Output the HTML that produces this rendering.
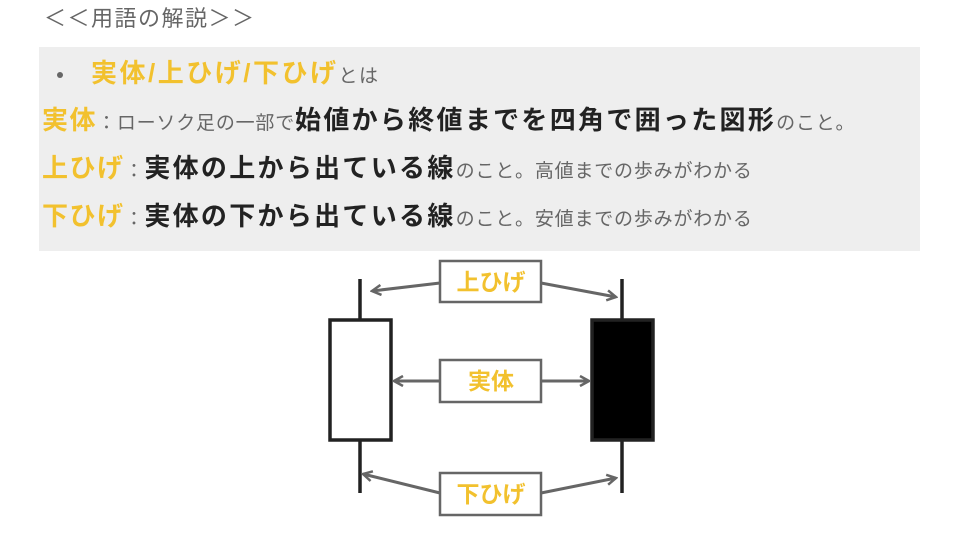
<!DOCTYPE html>
<html><head><meta charset="utf-8"><style>
body{margin:0;width:960px;height:540px;background:#fff;position:relative;overflow:hidden;font-family:"Liberation Sans","Noto Sans CJK JP",sans-serif}
.t{position:absolute;white-space:nowrap;line-height:1}
.o{color:#f2c12e;font-weight:bold;font-size:26px;letter-spacing:1.5px}
.g{color:#666;font-size:19px;letter-spacing:0.8px}
.b{color:#222;font-weight:bold;font-size:26px;letter-spacing:2.3px}
</style></head><body>
<div class="t" style="left:44px;top:8px;font-size:22px;color:#666;letter-spacing:1.5px">＜＜用語の解説＞＞</div>
<div style="position:absolute;left:39px;top:47px;width:881px;height:204px;background:#eeeeee"></div>
<div style="position:absolute;left:57px;top:72px;width:6px;height:6px;border-radius:50%;background:#666"></div>
<div class="t" style="left:91px;top:60px"><span class="o" style="letter-spacing:2.5px">実体/上ひげ/下ひげ</span><span class="g" style="letter-spacing:1.5px">とは</span></div>
<div class="t" style="left:42px;top:107px"><span class="o">実体</span><span class="g">：ローソク足の一部で</span><span class="b">始値から終値までを四角で囲った図形</span><span class="g">のこと。</span></div>
<div class="t" style="left:42px;top:155px"><span class="o">上ひげ</span><span class="g">：</span><span class="b">実体の上から出ている線</span><span class="g">のこと。高値までの歩みがわかる</span></div>
<div class="t" style="left:42px;top:203px"><span class="o">下ひげ</span><span class="g">：</span><span class="b">実体の下から出ている線</span><span class="g">のこと。安値までの歩みがわかる</span></div>
<svg width="960" height="540" style="position:absolute;left:0;top:0">
<defs><marker id="a" markerWidth="12" markerHeight="12" refX="10" refY="6" orient="auto" markerUnits="userSpaceOnUse"><path d="M1,1 L10,6 L1,11" fill="none" stroke="#666" stroke-width="2.5"/></marker></defs>
<g stroke="#222" stroke-width="3.5">
<line x1="360" y1="279" x2="360" y2="493"/><rect x="330" y="320" width="61" height="120" fill="#fff"/>
<line x1="622" y1="279" x2="622" y2="493"/><rect x="592" y="320" width="61" height="120" fill="#000"/>
</g>
<g stroke="#666" stroke-width="3" fill="none" marker-end="url(#a)">
<line x1="440" y1="283" x2="372" y2="291"/><line x1="541" y1="283" x2="616" y2="297"/>
<line x1="440" y1="381" x2="394" y2="381"/><line x1="541" y1="381" x2="589" y2="381"/>
<line x1="440" y1="493" x2="363" y2="474"/><line x1="541" y1="493" x2="616" y2="478"/>
</g>
<g stroke="#666" stroke-width="2.5" fill="#fff">
<rect x="440" y="261" width="101" height="41"/><rect x="440" y="360" width="101" height="42"/><rect x="440" y="473" width="101" height="42"/>
</g>
<g fill="#f2c12e" font-weight="bold" font-size="23" text-anchor="middle" font-family="Liberation Sans,Noto Sans CJK JP,sans-serif">
<text x="491" y="290">上ひげ</text><text x="491" y="389">実体</text><text x="491" y="502">下ひげ</text>
</g>
</svg>
</body></html>
